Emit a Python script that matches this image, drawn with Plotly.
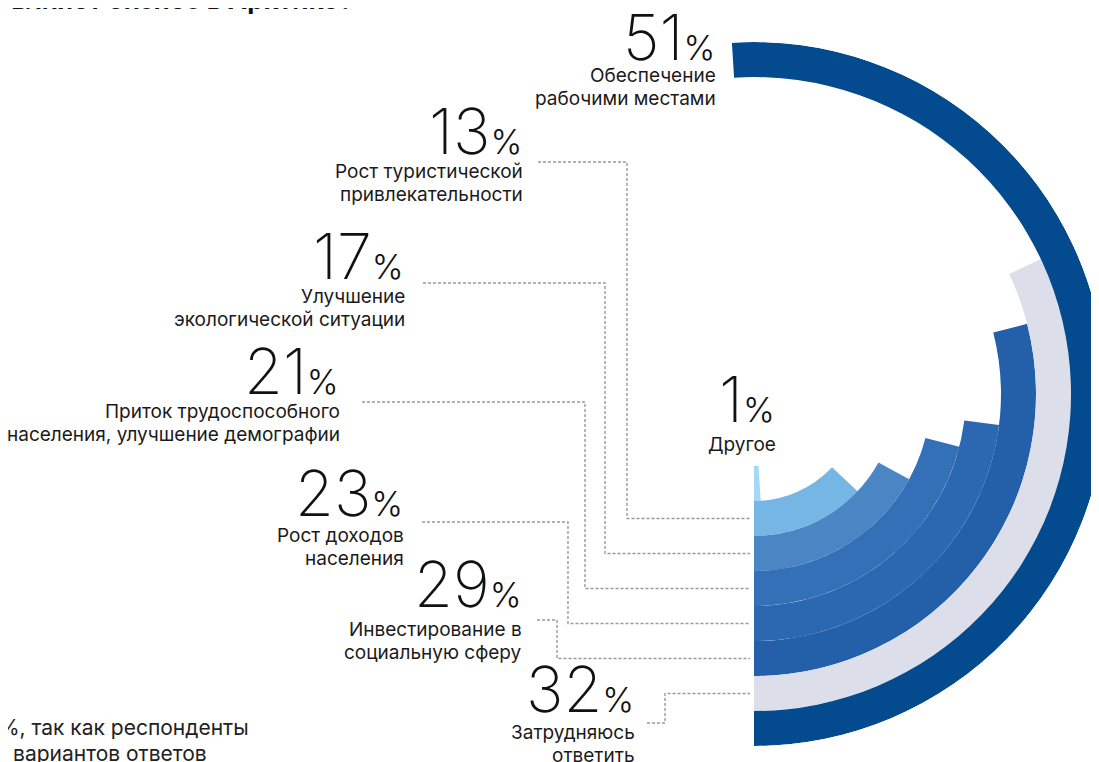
import math
import plotly.graph_objects as go

# ---------------- data (inner ring -> outer ring) ----------------
categories = [
    "Другое",
    "Рост туристической<br>привлекательности",
    "Улучшение<br>экологической ситуации",
    "Приток трудоспособного<br>населения, улучшение демографии",
    "Рост доходов<br>населения",
    "Инвестирование в<br>социальную сферу",
    "Затрудняюсь<br>ответить",
    "Обеспечение<br>рабочими местами",
]
values = [1, 13, 17, 21, 23, 29, 32, 51]
colors = ["#a6d8f6", "#76b6e4", "#4a86c4", "#3470b7", "#2c67b1", "#2460a9", "#dcdee9", "#044a8e"]

title_text = "На что положительно влияет бизнес в Арктике?"
footnote_1 = "*Сумма не равна 100%, так как респонденты"
footnote_2 = "могли выбрать несколько вариантов ответов"

# ---------------- layout constants (page pixels) ----------------
W, H = 1099, 762
OFF = 8                                  # default page margin around the figure
CX, CY, RPX = 754, 394, 352              # centre and outer radius of rings on the page
R_MAX, HOLE, RING = 352.0, 72.0, 35.0    # radial-axis units
SECTOR_END = 94.0
K = RPX / R_MAX


def fx(x):
    return (x - OFF) / W


def fy(y):
    return 1 - (y - OFF) / H


# (anchor x, number baseline y, first description line centre y, leader start (x,y), bend x)
label_pos = [
    (777, 423, 445, None, None),
    (524, 155, 172, (538, 162), 627),
    (406, 280, 298, (423, 283), 605),
    (341, 395, 412, (362, 402), 585),
    (405, 517, 536, (422, 522), 568),
    (523, 608, 630, (537, 620), 557),
    (636, 713, 733, (647, 723), 665),
    (717, 61, 76, None, None),
]
LINE_STEP = 23

n = len(values)
bases = [HOLE + RING * i for i in range(n)]
spans = [v * 3.6 for v in values]
thetas = [s / 2 for s in spans]

fig = go.Figure()
fig.add_trace(go.Barpolar(
    r=[RING] * n,
    base=bases,
    theta=thetas,
    width=spans,
    marker=dict(color=colors, line=dict(width=0)),
    hoverinfo="skip",
    showlegend=False,
))

# polar domain (figure coordinates) so that the centre lands at (CX, CY) with radius RPX
cxf, cyf = CX - OFF, CY - OFF
x_left = cxf + RPX * math.cos(math.radians(SECTOR_END))
x_right = cxf + RPX
yc = 1 - cyf / H
half = min(yc, 1 - yc)

annotations = []
shapes = []
NUM_FONT = dict(family="Inter, Lato, sans-serif", size=63, color="#111111", weight=200)
TXT_FONT = dict(family="Inter, Roboto, sans-serif", size=19, color="#1a1a1a")

for i, v in enumerate(values):
    ax, base_y, d_y, lead, bend = label_pos[i]
    annotations.append(dict(
        x=fx(ax), y=fy(base_y + 16), xref="paper", yref="paper",
        xanchor="right", yanchor="bottom", showarrow=False,
        text=f"{v}<span style='font-size:34px;font-weight:300'>%</span>",
        font=NUM_FONT,
    ))
    for j, line in enumerate(categories[i].split("<br>")):
        annotations.append(dict(
            x=fx(ax + 1), y=fy(d_y + j * LINE_STEP - 1), xref="paper", yref="paper",
            xanchor="right", yanchor="middle", align="right", showarrow=False,
            text=line, font=TXT_FONT,
        ))
    if lead is not None:
        ring_y = CY + (bases[i] + RING / 2) * K
        path = (f"M {fx(lead[0])},{fy(lead[1])} H {fx(bend)} "
                f"V {fy(ring_y)} H {fx(CX - 4)}")
        shapes.append(dict(type="path", xref="paper", yref="paper", path=path,
                           line=dict(color="#9a9a9a", width=1.4, dash="3px,2px")))

# title (cut by the top edge) and footnote (cut by the left edge)
annotations.append(dict(
    x=fx(355), y=fy(17), xref="paper", yref="paper", xanchor="right", yanchor="bottom",
    showarrow=False, text=title_text,
    font=dict(family="Inter, sans-serif", size=26, color="#111111", weight=700),
))
annotations.append(dict(
    x=fx(251), y=fy(727), xref="paper", yref="paper", xanchor="right", yanchor="middle",
    showarrow=False, text=footnote_1,
    font=dict(family="Inter, sans-serif", size=21, color="#222222"),
))
annotations.append(dict(
    x=fx(209), y=fy(753), xref="paper", yref="paper", xanchor="right", yanchor="middle",
    showarrow=False, text=footnote_2,
    font=dict(family="Inter, sans-serif", size=21, color="#222222"),
))

fig.update_layout(
    width=W, height=H,
    margin=dict(l=0, r=0, t=0, b=0, pad=0),
    paper_bgcolor="white",
    plot_bgcolor="white",
    showlegend=False,
    polar=dict(
        domain=dict(x=[x_left / W, min(x_right / W, 1)], y=[yc - half, yc + half]),
        sector=[-90, SECTOR_END],
        bgcolor="rgba(0,0,0,0)",
        barmode="overlay",
        angularaxis=dict(rotation=-90, direction="counterclockwise", visible=False,
                         showgrid=False, showline=False, ticks=""),
        radialaxis=dict(range=[0, R_MAX], visible=False, showgrid=False,
                        showline=False, ticks=""),
    ),
    annotations=annotations,
    shapes=shapes,
)

fig.write_html("out.html")
